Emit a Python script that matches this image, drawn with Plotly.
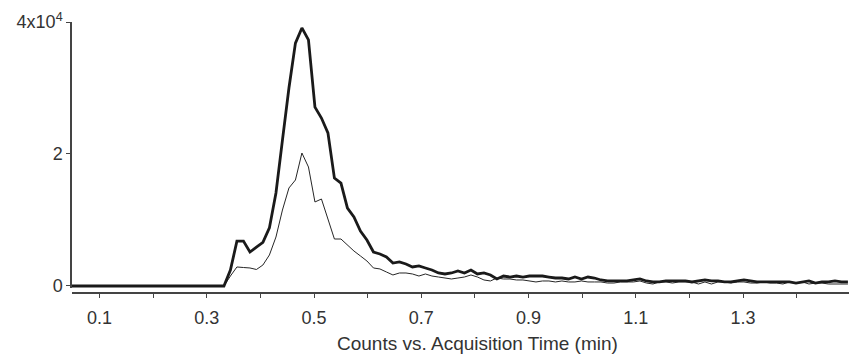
import plotly.graph_objects as go

# Acquisition times (min)
time_min = [
    0.0411, 0.0532, 0.0654, 0.0775, 0.0896, 0.1017, 0.1138, 0.1260, 0.1381, 0.1502,
    0.1623, 0.1744, 0.1866, 0.1987, 0.2108, 0.2229, 0.2350, 0.2472, 0.2593, 0.2714,
    0.2835, 0.2956, 0.3078, 0.3199, 0.3320, 0.3441, 0.3562, 0.3684, 0.3805, 0.3926,
    0.4047, 0.4168, 0.4290, 0.4411, 0.4532, 0.4653, 0.4774, 0.4896, 0.5017, 0.5138,
    0.5259, 0.5380, 0.5502, 0.5623, 0.5744, 0.5865, 0.5986, 0.6108, 0.6229, 0.6350,
    0.6471, 0.6592, 0.6714, 0.6835, 0.6956, 0.7077, 0.7198, 0.7320, 0.7441, 0.7562,
    0.7683, 0.7804, 0.7926, 0.8047, 0.8168, 0.8289, 0.8410, 0.8532, 0.8653, 0.8774,
    0.8895, 0.9016, 0.9138, 0.9259, 0.9380, 0.9501, 0.9622, 0.9744, 0.9865, 0.9986,
    1.0107, 1.0228, 1.0350, 1.0471, 1.0592, 1.0713, 1.0834, 1.0956, 1.1077, 1.1198,
    1.1319, 1.1440, 1.1562, 1.1683, 1.1804, 1.1925, 1.2046, 1.2168, 1.2289, 1.2410,
    1.2531, 1.2652, 1.2774, 1.2895, 1.3016, 1.3137, 1.3258, 1.3380, 1.3501, 1.3622,
    1.3743, 1.3864, 1.3986, 1.4107, 1.4228, 1.4349, 1.4470, 1.4592, 1.4713, 1.4834,
    1.4955,
]

# Thick trace counts
counts_thick = [
    0, 0, 0, 0, 0, 0, 0, 0, 0, 0,
    0, 0, 0, 0, 0, 0, 0, 0, 0, 0,
    0, 0, 0, 0, 0, 2400, 6800, 6800, 5150, 5900,
    6600, 8800, 14100, 22100, 30000, 36800, 39100, 37300, 27100, 25450,
    23200, 16350, 15600, 11800, 10450, 8330, 6970, 5150, 4850, 4400,
    3480, 3640, 3330, 2880, 3030, 2730, 2420, 1970, 1820, 1970,
    2270, 1970, 2420, 1820, 1970, 1670, 1060, 1510, 1360, 1510,
    1360, 1510, 1510, 1510, 1360, 1210, 1210, 1060, 1360, 1060,
    1360, 1210, 910, 760, 760, 760, 760, 910, 1060, 760,
    610, 610, 760, 760, 760, 760, 610, 760, 910, 760,
    760, 610, 610, 760, 910, 760, 610, 610, 610, 610,
    610, 610, 450, 610, 760, 450, 610, 610, 760, 610,
    610,
]

# Thin trace counts
counts_thin = [
    0, 0, 0, 0, 0, 0, 0, 0, 0, 0,
    0, 0, 0, 0, 0, 0, 0, 0, 0, 0,
    0, 0, 0, 0, 0, 1510, 2880, 2800, 2730, 2500,
    3180, 4700, 7420, 11510, 14850, 16060, 20150, 18030, 12730, 13180,
    10000, 7120, 7120, 6210, 5300, 4550, 3790, 2730, 2580, 2120,
    1670, 1970, 1970, 1820, 1510, 1820, 1510, 1360, 1210, 1060,
    1210, 1360, 1670, 1360, 910, 760, 1210, 1060, 1060, 910,
    910, 760, 610, 760, 760, 610, 760, 610, 610, 760,
    610, 610, 610, 450, 450, 610, 610, 610, 760, 450,
    300, 610, 610, 450, 610, 610, 610, 300, 610, 300,
    610, 610, 450, 610, 610, 450, 450, 610, 450, 450,
    300, 610, 450, 610, 300, 450, 450, 300, 300, 300,
    300,
]

y_tick_vals = [0, 20000, 40000]
y_tick_text = ["0", "2", "4x10<sup>4</sup>"]
x_title = "Counts vs. Acquisition Time (min)"

FONT = "Liberation Sans, Arial, sans-serif"

fig = go.Figure()
fig.add_trace(go.Scatter(x=time_min, y=counts_thin, mode="lines",
                         line=dict(color="#262626", width=1), showlegend=False))
fig.add_trace(go.Scatter(x=time_min, y=counts_thick, mode="lines",
                         line=dict(color="#1a1a1a", width=2.8), showlegend=False))

fig.update_layout(
    width=849, height=361,
    margin=dict(l=72, r=0, t=22, b=68, pad=0),
    paper_bgcolor="white", plot_bgcolor="white",
    font=dict(family=FONT, size=18, color="#333333"),
    xaxis=dict(
        range=[0.0487, 1.4975],
        tickmode="linear", tick0=0.1, dtick=0.2, tickformat=".1f",
        ticks="outside", ticklen=4, tickwidth=1.2, tickcolor="#444444",
        minor=dict(ticks="outside", ticklen=4, tickwidth=1.2, tickcolor="#444444",
                   tick0=0.1, dtick=0.1, showgrid=False),
        showline=True, linecolor="#444444", linewidth=1.5,
        showgrid=False, zeroline=False,
        anchor="free", position=0,
        ticklabelstandoff=5,
        tickfont=dict(size=18, color="#333333"),
    ),
    yaxis=dict(
        range=[-303, 40000], domain=[0.0185, 1],
        tickvals=y_tick_vals, ticktext=y_tick_text,
        ticks="outside", ticklen=4, tickwidth=1.2, tickcolor="#444444",
        showline=True, linecolor="#444444", linewidth=1.5,
        showgrid=False, zeroline=False,
        tickfont=dict(size=18, color="#333333"),
    ),
    annotations=[dict(
        text=x_title, xref="paper", yref="paper",
        x=0.5225, y=-0.188, xanchor="center", yanchor="middle",
        showarrow=False, font=dict(size=19, color="#333333", family=FONT),
    )],
)

fig.write_html("out.html")
